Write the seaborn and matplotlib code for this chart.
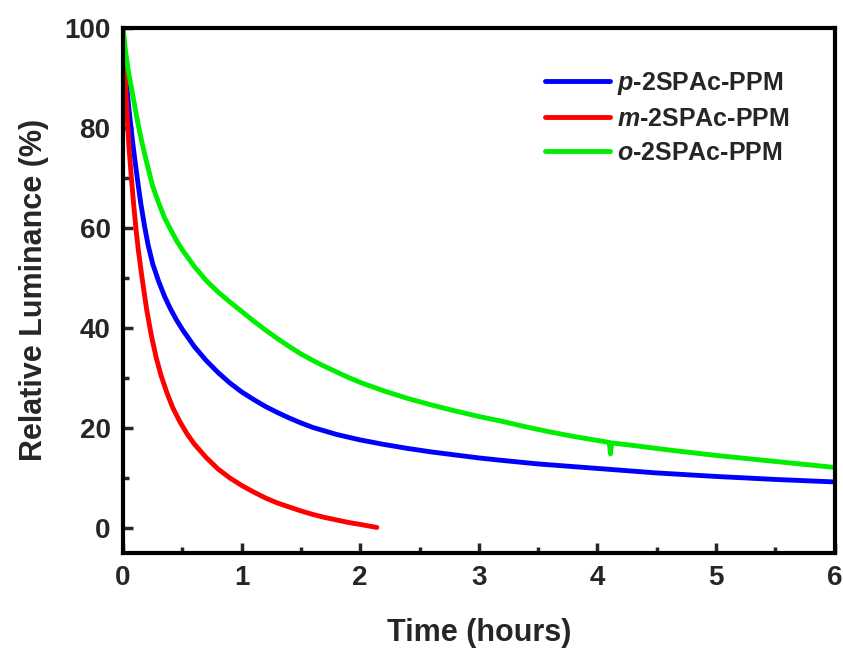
import numpy as np
import pandas as pd
import matplotlib
matplotlib.use("Agg")
import matplotlib.pyplot as plt
import seaborn as sns

# ---- data ----
p_time = [0, 0.02, 0.04, 0.06, 0.08, 0.1, 0.125, 0.15, 0.18, 0.21, 0.25, 0.3, 0.35, 0.4,
          0.45, 0.5, 0.6, 0.7, 0.8, 0.9, 1.0, 1.1, 1.2, 1.3, 1.4, 1.5, 1.6, 1.8, 2.0,
          2.2, 2.4, 2.6, 2.8, 3.0, 3.2, 3.5, 4.0, 4.5, 5.0, 5.5, 6.0]
p_lum = [100, 92, 86, 81.5, 77.3, 73.5, 69, 64.8, 60.5, 56.7, 52.8, 49.3, 46.3, 43.8,
         41.6, 39.7, 36.3, 33.5, 31.1, 29.0, 27.2, 25.7, 24.3, 23.1, 22.0, 21.0, 20.1, 18.7, 17.6,
         16.7, 15.9, 15.2, 14.6, 14.0, 13.5, 12.8, 11.9, 11.0, 10.3, 9.7, 9.2]

m_time = [0, 0.01, 0.02, 0.035, 0.05, 0.07, 0.09, 0.11, 0.13, 0.16, 0.2, 0.24, 0.28, 0.32,
          0.37, 0.42, 0.48, 0.54, 0.6, 0.7, 0.8, 0.9, 1.0, 1.1, 1.2, 1.3, 1.4, 1.5, 1.6,
          1.7, 1.8, 1.9, 2.0, 2.14]
m_lum = [100, 94, 89, 82, 76, 70, 64.5, 59.5, 55.3, 50, 43.5, 38.3, 34, 30.5,
         27, 24, 21.2, 18.8, 16.8, 14.1, 11.8, 10.0, 8.5, 7.2, 6.0, 5.0, 4.2, 3.4, 2.7,
         2.1, 1.6, 1.1, 0.7, 0.1]

o_time = [0, 0.02, 0.04, 0.06, 0.09, 0.12, 0.16, 0.2, 0.25, 0.3, 0.35, 0.4, 0.45, 0.5,
          0.6, 0.7, 0.8, 0.9, 1.0, 1.1, 1.2, 1.3, 1.4, 1.5, 1.6, 1.7, 1.8, 1.9, 2.0,
          2.2, 2.4, 2.6, 2.8, 3.0, 3.2, 3.4, 3.6, 3.8, 4.0, 4.10, 4.11, 4.12, 4.3,
          4.6, 5.0, 5.5, 6.0]
o_lum = [100, 95.5, 92, 89.3, 85.5, 81.5, 77, 73, 68.3, 65, 62, 59.7, 57.5, 55.6,
         52.3, 49.5, 47.2, 45.2, 43.3, 41.4, 39.6, 37.9, 36.3, 34.8, 33.5, 32.3, 31.2, 30.1, 29.1,
         27.4, 25.9, 24.6, 23.4, 22.3, 21.3, 20.2, 19.2, 18.3, 17.5, 17.1, 14.8, 17.0, 16.5,
         15.6, 14.5, 13.3, 12.1]

series_names = ["p-2SPAc-PPM", "m-2SPAc-PPM", "o-2SPAc-PPM"]
legend_labels = [r"$p$-2SPAc-PPM", r"$m$-2SPAc-PPM", r"$o$-2SPAc-PPM"]
colors = ["#0000ff", "#ff0000", "#00ee00"]

x_ticks = [0, 1, 2, 3, 4, 5, 6]
y_ticks = [0, 20, 40, 60, 80, 100]

df = pd.concat([
    pd.DataFrame({"Time": p_time, "Lum": p_lum, "Device": series_names[0]}),
    pd.DataFrame({"Time": m_time, "Lum": m_lum, "Device": series_names[1]}),
    pd.DataFrame({"Time": o_time, "Lum": o_lum, "Device": series_names[2]}),
], ignore_index=True)

# ---- style ----
sns.set_style("ticks")
plt.rcParams["font.family"] = ["Liberation Sans", "DejaVu Sans"]
plt.rcParams["font.weight"] = "bold"
plt.rcParams["mathtext.fontset"] = "custom"
plt.rcParams["mathtext.it"] = "Liberation Sans:italic:bold"
plt.rcParams["mathtext.rm"] = "Liberation Sans:bold"

fig = plt.figure(figsize=(8.43, 6.49), dpi=100)
ax = fig.add_axes([0.146, 0.148, 0.844, 0.809])

sns.lineplot(data=df, x="Time", y="Lum", hue="Device", hue_order=series_names,
             palette=colors, estimator=None, sort=False, linewidth=3.5, ax=ax)

ax.set_xlim(0, 6)
ax.set_ylim(-5, 100)
ax.set_xticks(x_ticks)
ax.set_yticks(y_ticks)
ax.set_xticks(np.arange(0.5, 6, 1.0), minor=True)
ax.set_yticks(np.arange(10, 100, 20), minor=True)
ax.tick_params(which="major", direction="in", length=7, width=2.5, labelsize=20, pad=9,
               top=False, right=False)
ax.tick_params(which="minor", direction="in", length=4, width=2.5, top=False, right=False)
for lab in ax.get_xticklabels() + ax.get_yticklabels():
    lab.set_fontweight("bold")

for sp in ax.spines.values():
    sp.set_visible(True)
    sp.set_linewidth(3)
    sp.set_color("black")

ax.set_xlabel("Time (hours)", fontsize=22, fontweight="bold", labelpad=19)
ax.set_ylabel("Relative Luminance (%)", fontsize=22, fontweight="bold", labelpad=11)

handles, _ = ax.get_legend_handles_labels()
leg = ax.legend(handles, legend_labels, loc="upper left", bbox_to_anchor=(0.593, 0.92),
                frameon=False, fontsize=18, handlelength=2.6, handletextpad=0.3,
                labelspacing=0.4, borderpad=0, borderaxespad=0)
for line in leg.get_lines():
    line.set_linewidth(3.5)
for t in leg.get_texts():
    t.set_fontweight("bold")

fig.savefig("out.png", dpi=100)
